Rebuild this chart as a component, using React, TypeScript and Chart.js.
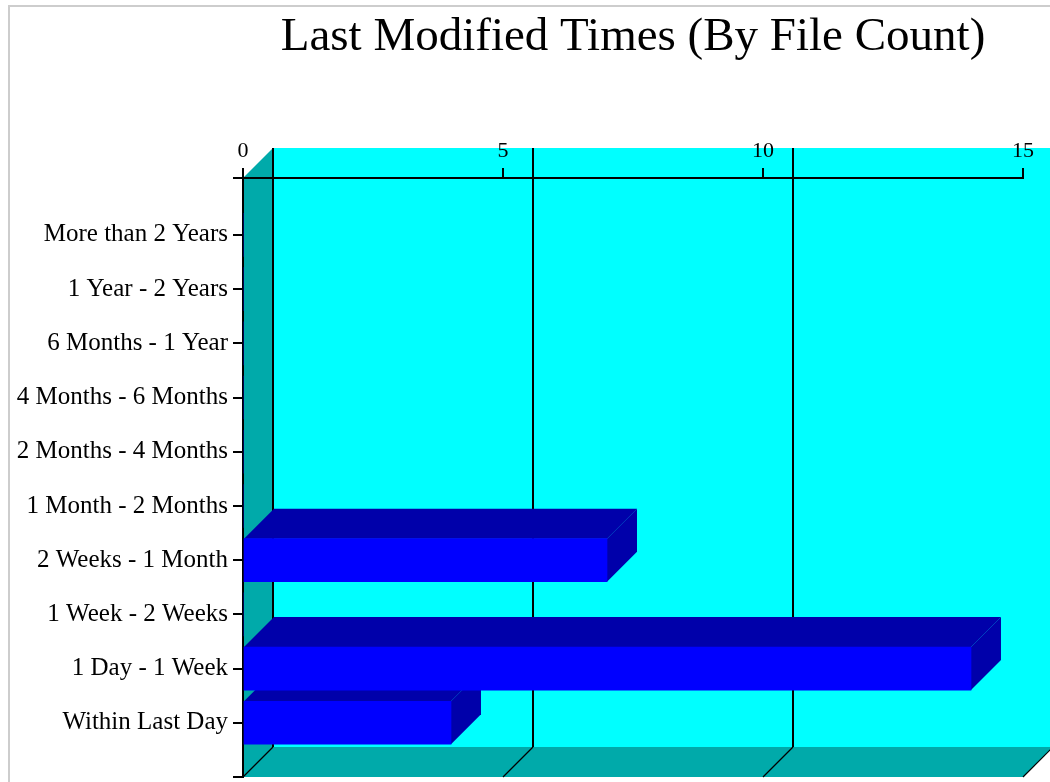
import React, { useEffect, useRef } from 'react';
import { Chart, registerables } from 'chart.js';

Chart.register(...registerables);

const chartTitle = 'Last Modified Times (By File Count)';
const categories = [
  'More than 2 Years',
  '1 Year - 2 Years',
  '6 Months - 1 Year',
  '4 Months - 6 Months',
  '2 Months - 4 Months',
  '1 Month - 2 Months',
  '2 Weeks - 1 Month',
  '1 Week - 2 Weeks',
  '1 Day - 1 Week',
  'Within Last Day',
];
const fileCounts = [0, 0, 0, 0, 0, 0, 7, 0, 14, 4];
const xTickValues = [0, 5, 10, 15];

const FONT = '"Liberation Serif", "Times New Roman", serif';
const DEPTH = 30;
const WALL = '#00FFFF';
const SIDE = '#00AAAA';
const FRONT = '#0000FF';
const SHADE = '#0000AA';

const threeD = {
  id: 'threeD',
  beforeDraw(chart: any) {
    const { ctx, chartArea: a, scales } = chart;
    const xs = scales.x;
    const D = DEPTH;
    ctx.save();
    // back wall
    ctx.fillStyle = WALL;
    ctx.fillRect(a.left + D, a.top - D, a.right - a.left, a.bottom - a.top);
    // left wall
    ctx.fillStyle = SIDE;
    ctx.beginPath();
    ctx.moveTo(a.left, a.top);
    ctx.lineTo(a.left + D, a.top - D);
    ctx.lineTo(a.left + D, a.bottom - D);
    ctx.lineTo(a.left, a.bottom);
    ctx.closePath();
    ctx.fill();
    // floor
    ctx.beginPath();
    ctx.moveTo(a.left, a.bottom);
    ctx.lineTo(a.left + D, a.bottom - D);
    ctx.lineTo(a.right + D, a.bottom - D);
    ctx.lineTo(a.right, a.bottom);
    ctx.closePath();
    ctx.fill();
    // back-wall grid lines and floor diagonals
    ctx.strokeStyle = '#000';
    for (const v of xTickValues) {
      const px = Math.round(xs.getPixelForValue(v));
      ctx.lineWidth = 2;
      ctx.beginPath();
      ctx.moveTo(px + D, a.top - D);
      ctx.lineTo(px + D, a.bottom - D);
      ctx.stroke();
      ctx.lineWidth = 1.2;
      ctx.beginPath();
      ctx.moveTo(px, a.bottom);
      ctx.lineTo(px + D, a.bottom - D);
      ctx.stroke();
    }
    ctx.restore();
  },
  beforeDatasetsDraw(chart: any) {
    const { ctx } = chart;
    const D = DEPTH;
    const meta = chart.getDatasetMeta(0);
    ctx.save();
    ctx.fillStyle = SHADE;
    meta.data.forEach((bar: any, i: number) => {
      if (!fileCounts[i]) return;
      const { x, y, base, height } = bar.getProps(['x', 'y', 'base', 'height'], true);
      const top = y - height / 2;
      const bottom = y + height / 2;
      // top face
      ctx.beginPath();
      ctx.moveTo(base, top);
      ctx.lineTo(base + D, top - D);
      ctx.lineTo(x + D, top - D);
      ctx.lineTo(x, top);
      ctx.closePath();
      ctx.fill();
      // right face
      ctx.beginPath();
      ctx.moveTo(x, top);
      ctx.lineTo(x + D, top - D);
      ctx.lineTo(x + D, bottom - D);
      ctx.lineTo(x, bottom);
      ctx.closePath();
      ctx.fill();
    });
    ctx.restore();
  },
};

export default function App() {
  const canvasRef = useRef<HTMLCanvasElement | null>(null);

  useEffect(() => {
    const canvas = canvasRef.current;
    if (!canvas) return;
    Chart.defaults.font.family = FONT;
    Chart.defaults.color = '#000';
    const chart = new Chart(canvas, {
      type: 'bar',
      data: {
        datasets: [
          {
            label: 'File Count',
            data: fileCounts.map((v, i) => ({ x: v, y: i })),
            backgroundColor: FRONT,
            borderWidth: 0,
            barThickness: 43,
          },
        ],
      },
      options: {
        indexAxis: 'y',
        responsive: false,
        animation: false,
        events: [],
        layout: { padding: { left: 0, right: 27, top: 0, bottom: 5 } },
        plugins: {
          legend: { display: false },
          tooltip: { enabled: false },
          title: {
            display: true,
            text: chartTitle,
            fullSize: false,
            color: '#000',
            font: { family: FONT, size: 47, weight: 'normal', lineHeight: 1 },
            padding: { top: 14, bottom: 0 },
          },
        },
        scales: {
          x: {
            type: 'linear',
            position: 'top',
            min: 0,
            max: 15,
            afterBuildTicks: (s: any) => {
              s.ticks = xTickValues.map((value) => ({ value }));
            },
            afterFit: (s: any) => {
              s.height = 117;
              s.paddingLeft = 0;
              s.paddingRight = 0;
            },
            ticks: { padding: 4, color: '#000', font: { family: FONT, size: 22 } },
            grid: { drawOnChartArea: false, drawTicks: true, tickLength: 10, color: '#000', lineWidth: 2 },
            border: { display: true, color: '#000', width: 2 },
          },
          y: {
            type: 'linear',
            reverse: true,
            offset: false,
            min: -1.05,
            max: 10,
            afterBuildTicks: (s: any) => {
              s.ticks = [-1.05, ...categories.map((_, i) => i), 10].map((value) => ({ value }));
            },
            afterFit: (s: any) => {
              s.width = 243;
              s.paddingTop = 0;
              s.paddingBottom = 0;
            },
            ticks: {
              autoSkip: false,
              padding: 5,
              color: '#000',
              font: { family: FONT, size: 25 },
              callback: (v: any) => categories[v as number] ?? '',
            },
            grid: { offset: false, drawOnChartArea: false, drawTicks: true, tickLength: 10, color: '#000', lineWidth: 2 },
            border: { display: true, color: '#000', width: 2 },
          },
        },
      },
      plugins: [threeD],
    } as any);
    return () => chart.destroy();
  }, []);

  return (
    <div style={{ position: 'fixed', left: 0, top: 0, width: 1050, height: 782, background: '#fff', overflow: 'hidden' }}>
      <div
        style={{
          position: 'absolute',
          left: 8,
          top: 5,
          right: 0,
          bottom: 0,
          borderTop: '2px solid #cdcdcd',
          borderLeft: '2px solid #cdcdcd',
        }}
      />
      <canvas ref={canvasRef} width={1050} height={782} style={{ position: 'absolute', left: 0, top: 0, width: 1050, height: 782 }} />
    </div>
  );
}
